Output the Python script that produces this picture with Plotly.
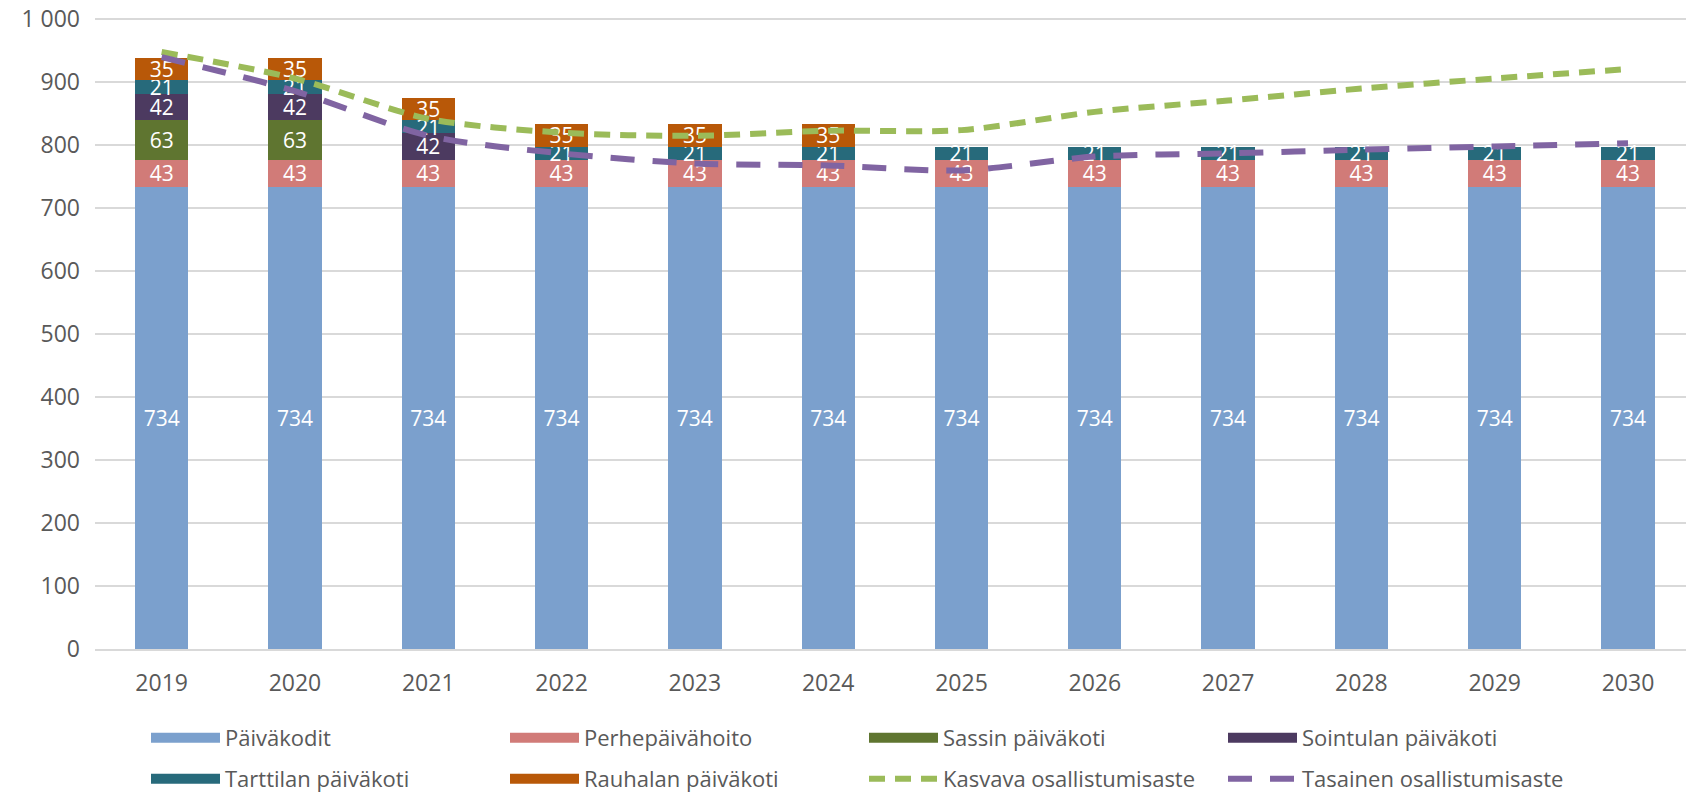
import plotly.graph_objects as go

years = ["2019", "2020", "2021", "2022", "2023", "2024", "2025", "2026", "2027", "2028", "2029", "2030"]
paivakodit = [734, 734, 734, 734, 734, 734, 734, 734, 734, 734, 734, 734]
perhe = [43, 43, 43, 43, 43, 43, 43, 43, 43, 43, 43, 43]
sassin = [63, 63, None, None, None, None, None, None, None, None, None, None]
sointulan = [42, 42, 42, None, None, None, None, None, None, None, None, None]
tarttilan = [21, 21, 21, 21, 21, 21, 21, 21, 21, 21, 21, 21]
rauhalan = [35, 35, 35, 35, 35, 35, None, None, None, None, None, None]
kasvava = [948, 906, 842, 820, 815, 823, 824, 853, 871, 890, 906, 921]
tasainen = [940, 886, 815, 787, 771, 768, 760, 782, 787, 793, 798, 803]

ytick_vals = [0, 100, 200, 300, 400, 500, 600, 700, 800, 900, 1000]
ytick_text = ["0", "100", "200", "300", "400", "500", "600", "700", "800", "900", "1 000"]

FONT = "Open Sans"
GREY = "#595959"

# page body has an 8px margin, so the figure is 16px smaller than the window
W, H = 1678, 785

bar_series = [
    ("Päiväkodit", paivakodit, "#7ba0cd", "legend"),
    ("Perhepäivähoito", perhe, "#d17b78", "legend"),
    ("Sassin päiväkoti", sassin, "#5f7530", "legend"),
    ("Sointulan päiväkoti", sointulan, "#4c3a60", "legend"),
    ("Tarttilan päiväkoti", tarttilan, "#276a7b", "legend2"),
    ("Rauhalan päiväkoti", rauhalan, "#b85808", "legend2"),
]

fig = go.Figure()
for name, vals, color, lg in bar_series:
    fig.add_trace(go.Bar(
        x=years, y=vals, name=name, marker=dict(color=color, line=dict(width=0)),
        text=[("" if v is None else str(v)) for v in vals],
        textposition="inside", insidetextanchor="middle", textangle=0,
        textfont=dict(color="white", size=21, family=FONT),
        showlegend=False, hoverinfo="skip",
    ))

for name, vals, color, lg in bar_series:
    fig.add_trace(go.Scatter(
        x=[None], y=[None], mode="lines", name=name,
        line=dict(color=color, width=10), legend=lg,
    ))

fig.add_trace(go.Scatter(
    x=years, y=kasvava, mode="lines", name="Kasvava osallistumisaste",
    line=dict(color="#9bbb59", width=6, dash="16px,10px", shape="spline", smoothing=0.8),
    legend="legend2",
))
fig.add_trace(go.Scatter(
    x=years, y=tasainen, mode="lines", name="Tasainen osallistumisaste",
    line=dict(color="#8064a2", width=6, dash="24px,18px", shape="spline", smoothing=0.8),
    legend="legend2",
))

legend_common = dict(
    orientation="h", xanchor="left", yanchor="middle",
    xref="container", yref="container",
    font=dict(size=22, family=FONT, color=GREY),
    itemwidth=69, entrywidth=275, entrywidthmode="pixels",
    bgcolor="rgba(0,0,0,0)", traceorder="normal",
)

fig.update_layout(
    width=W, height=H, autosize=False,
    barmode="stack", bargap=0.6,
    plot_bgcolor="white", paper_bgcolor="white",
    margin=dict(l=87, r=0, t=5, b=144),
    font=dict(family=FONT, color=GREY, size=22),
    uniformtext=dict(minsize=21, mode="show"),
    legend=dict(x=138 / W, y=1 - 730 / H, **legend_common),
    legend2=dict(x=138 / W, y=1 - 771 / H, **legend_common),
    xaxis=dict(
        type="category", range=[-0.5, 11.435], showline=True, linecolor="#d9d9d9", linewidth=1.5,
        showgrid=False, tickfont=dict(size=23, family=FONT, color=GREY),
        ticks="", ticklabelstandoff=13, automargin=False,
    ),
    yaxis=dict(
        range=[0, 1010], tickvals=ytick_vals, ticktext=ytick_text,
        showgrid=True, gridcolor="#d9d9d9", gridwidth=1.5, zeroline=False,
        tickfont=dict(size=23, family=FONT, color=GREY), ticklabelstandoff=14,
        ticklabeloverflow="allow", automargin=False,
    ),
)

fig.write_html("out.html")
